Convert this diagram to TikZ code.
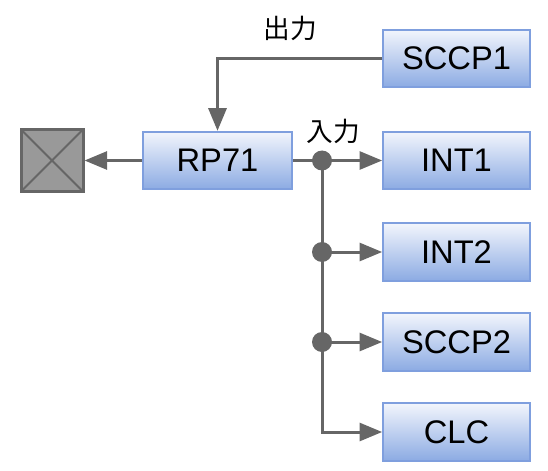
\documentclass[tikz,border=0pt]{standalone}
\usepackage{fontspec}
\setmainfont{Liberation Sans}
\newfontfamily\jpfont{Noto Sans CJK JP}
\usetikzlibrary{arrows.meta}
\definecolor{boxtop}{HTML}{F2F5FC}
\definecolor{boxbot}{HTML}{8CABE3}
\definecolor{boxline}{HTML}{7F9FDE}
\definecolor{wire}{HTML}{666666}
\definecolor{xfill}{HTML}{999999}

\begin{document}
\begin{tikzpicture}[x=0.75pt,y=-0.75pt,
box/.style={draw=boxline,line width=1.5pt,top color=boxtop,bottom color=boxbot,
minimum width=110pt,minimum height=43pt,inner sep=0pt,
font=\fontsize{24.5}{24.5}\selectfont},
arr/.style={draw=wire,line width=2.25pt,-{Triangle[length=17pt,width=13.5pt]}},
wireline/.style={draw=wire,line width=2.25pt},
dot/.style={circle,fill=wire,inner sep=0pt,minimum size=15pt},
lbl/.style={font=\jpfont\fontsize{20}{20}\selectfont}]
\useasboundingbox (0,0) rectangle (548,470);

\node[box] (sccp1) at (456.5,58.5) {SCCP1};
\node[box,minimum width=112pt] (rp71) at (217.5,160.5) {RP71};
\node[box] (int1) at (456.5,160.5) {INT1};
\node[box] (int2) at (456.5,252) {INT2};
\node[box] (sccp2) at (456.5,342) {SCCP2};
\node[box] (clc) at (456.5,432) {CLC};
\node[draw=wire,line width=2.25pt,fill=xfill,minimum size=46.5pt,inner sep=0pt,
path picture={\draw[wire,line width=1.5pt]
(path picture bounding box.north west) -- (path picture bounding box.south east)
(path picture bounding box.north east) -- (path picture bounding box.south west);}]
(out) at (52,160.5) {};

\coordinate (j1) at (322,160.5);
\coordinate (j2) at (322,252);
\coordinate (j3) at (322,342);

% output side
\draw[arr] (sccp1) -| (rp71);
\draw[arr] (rp71) -- (out);
\node[lbl] (outlbl) at (290,28) {出力};

% input side
\draw[wireline] (rp71) -- (j1);
\draw[arr] (j1) -- (int1);
\draw[arr] (j1) |- (clc);
\draw[arr] (j2) -- (int2);
\draw[arr] (j3) -- (sccp2);
\node[dot] at (j1) {};
\node[dot] at (j2) {};
\node[dot] at (j3) {};
\node[lbl] (inlbl) at (333,131) {入力};
\end{tikzpicture}
\end{document}
